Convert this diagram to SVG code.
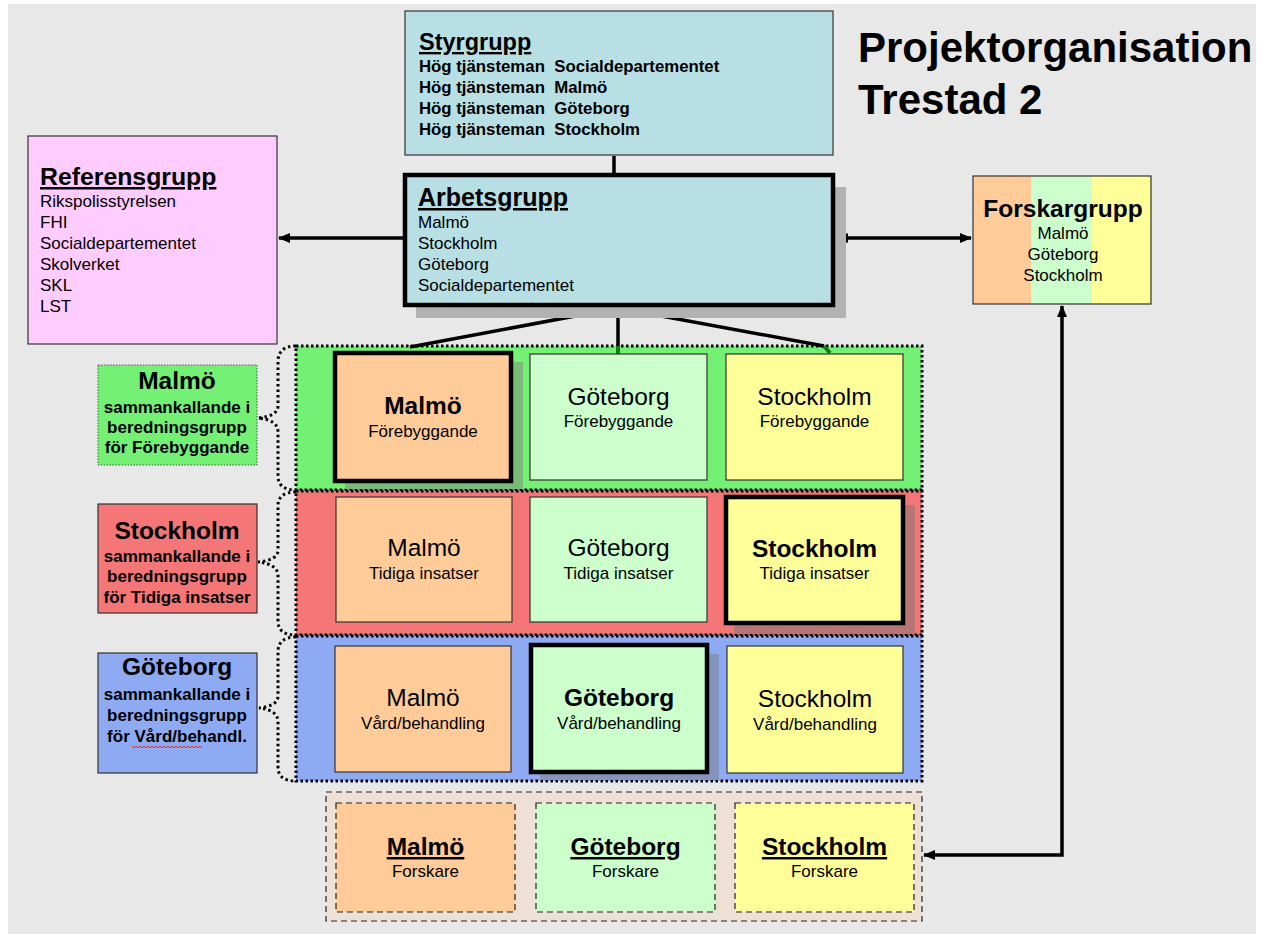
<svg xmlns="http://www.w3.org/2000/svg" width="1263" height="934" viewBox="0 0 1263 934">
<defs>
<style>
text{font-family:"Liberation Sans",Arial,sans-serif;fill:#000}
.b{font-weight:bold}
.u{text-decoration:underline}
.c{text-anchor:middle}
.thin{stroke:#333;stroke-width:1.2}
.thick{stroke:#000;stroke-width:4.5}
.band{stroke:#000;stroke-width:3;stroke-dasharray:2.5 2.5}
.dash{stroke:#222;stroke-width:1.2;stroke-dasharray:6 4}
.brace{fill:none;stroke:#000;stroke-width:3;stroke-dasharray:2.5 3}
.conn{fill:none;stroke:#000;stroke-width:3.5}
</style>
<marker id="ah" viewBox="0 0 12 10" refX="11" refY="5" markerWidth="12" markerHeight="10" markerUnits="userSpaceOnUse" orient="auto-start-reverse">
<path d="M0,0 L12,5 L0,10 Z" fill="#000"/>
</marker>
</defs>
<rect x="0" y="0" width="1263" height="934" fill="#fff"/>
<rect x="8" y="4" width="1248" height="930" fill="#e8e8e8"/>

<g id="title">
<text class="b" x="858" y="62" font-size="42">Projektorganisation</text>
<text class="b" x="858" y="114" font-size="42">Trestad 2</text>
</g>

<!-- bands -->
<g id="band-forebyggande"><rect x="296" y="346" width="626" height="144" fill="#74f074" class="band"/></g>
<g id="band-tidiga"><rect x="296" y="491" width="626" height="144" fill="#f47676" class="band"/></g>
<g id="band-vard"><rect x="296" y="636" width="626" height="145" fill="#8eaaf2" class="band"/></g>

<g id="connectors">
<line x1="614" y1="156" x2="614" y2="174" class="conn" stroke-width="4"/>
<line x1="618" y1="308" x2="410" y2="347" class="conn" stroke-width="4"/>
<line x1="618" y1="308" x2="618" y2="346" class="conn" stroke-width="4"/>
<line x1="618" y1="308" x2="824" y2="346" class="conn" stroke-width="4"/>
<line x1="618" y1="346" x2="618" y2="354" stroke="#167a16" stroke-width="4"/>
<line x1="824" y1="346" x2="830" y2="353" stroke="#167a16" stroke-width="4"/>
<line x1="403" y1="238" x2="279" y2="238" class="conn" marker-end="url(#ah)"/>
<line x1="837" y1="238" x2="971" y2="238" class="conn" marker-start="url(#ah)" marker-end="url(#ah)"/>
<polyline points="1062,306 1062,855 924,855" class="conn" marker-start="url(#ah)" marker-end="url(#ah)"/>
<path class="brace" d="M296,346 Q278,346 278,362 L278,406 Q278,416 258,418 Q278,420 278,432 L278,476 Q278,490 296,490"/>
<path class="brace" d="M296,492 Q278,492 278,506 L278,550 Q278,560 258,562 Q278,564 278,576 L278,621 Q278,635 296,635"/>
<path class="brace" d="M296,637 Q278,637 278,652 L278,696 Q278,706 259,708 Q278,710 278,722 L278,767 Q278,781 296,781"/>
</g>

<g id="styrgrupp">
<rect x="405" y="11" width="428" height="144" fill="#b8dfe3" class="thin"/>
<text class="b u" x="419" y="50" font-size="23.5">Styrgrupp </text>
<text class="b" x="419" y="72" font-size="16.8" xml:space="preserve">Hög tjänsteman  Socialdepartementet</text>
<text class="b" x="419" y="93" font-size="16.8" xml:space="preserve">Hög tjänsteman  Malmö</text>
<text class="b" x="419" y="114" font-size="16.8" xml:space="preserve">Hög tjänsteman  Göteborg</text>
<text class="b" x="419" y="135" font-size="16.8" xml:space="preserve">Hög tjänsteman  Stockholm</text>
</g>

<g id="arbetsgrupp">
<rect x="416" y="187" width="430" height="131" fill="#b2b2b2"/>
<rect x="405" y="175" width="428" height="130" fill="#b8dfe3" class="thick"/>
<text class="b u" x="418" y="206" font-size="25">Arbetsgrupp </text>
<text x="418" y="228" font-size="17">Malmö</text>
<text x="418" y="249" font-size="17">Stockholm</text>
<text x="418" y="270" font-size="17">Göteborg</text>
<text x="418" y="291" font-size="17">Socialdepartementet</text>
</g>

<g id="referensgrupp">
<rect x="28" y="136" width="249" height="208" fill="#ffccff" class="thin"/>
<text class="b u" x="40" y="185" font-size="24.8">Referensgrupp</text>
<text x="40" y="207" font-size="17">Rikspolisstyrelsen</text>
<text x="40" y="228" font-size="17">FHI</text>
<text x="40" y="249" font-size="17">Socialdepartementet</text>
<text x="40" y="270" font-size="17">Skolverket</text>
<text x="40" y="291" font-size="17">SKL</text>
<text x="40" y="312" font-size="17">LST</text>
</g>

<g id="forskargrupp">
<rect x="973" y="176" width="58" height="128" fill="#ffcc99"/>
<rect x="1031" y="176" width="61" height="128" fill="#ccffcc"/>
<rect x="1092" y="176" width="59" height="128" fill="#ffff99"/>
<rect x="973" y="176" width="178" height="128" fill="none" class="thin"/>
<text class="b c" x="1063" y="217" font-size="24.5">Forskargrupp</text>
<text class="c" x="1063" y="239" font-size="17">Malmö</text>
<text class="c" x="1063" y="260" font-size="17">Göteborg</text>
<text class="c" x="1063" y="281" font-size="17">Stockholm</text>
</g>

<g id="label-malmo">
<rect x="98" y="365" width="159" height="100" fill="#74f074" stroke="#555" stroke-width="1" stroke-dasharray="1.5 1.5"/>
<text class="b c" x="177" y="389" font-size="24.5">Malmö</text>
<text class="b c" x="177" y="413" font-size="17">sammankallande i</text>
<text class="b c" x="177" y="433" font-size="17">beredningsgrupp</text>
<text class="b c" x="177" y="453" font-size="17">för Förebyggande</text>
</g>
<g id="label-stockholm">
<rect x="98" y="504" width="159" height="109" fill="#f47676" class="thin"/>
<text class="b c" x="177" y="539" font-size="24.5">Stockholm</text>
<text class="b c" x="177" y="562" font-size="17">sammankallande i</text>
<text class="b c" x="177" y="582" font-size="17">beredningsgrupp</text>
<text class="b c" x="177" y="603" font-size="17">för Tidiga insatser</text>
</g>
<g id="label-goteborg">
<rect x="98" y="653" width="159" height="120" fill="#8eaaf2" class="thin"/>
<text class="b c" x="177" y="675" font-size="24.5">Göteborg</text>
<text class="b c" x="177" y="700" font-size="17">sammankallande i</text>
<text class="b c" x="177" y="721" font-size="17">beredningsgrupp</text>
<text class="b c" x="177" y="742" font-size="17">för Vård/behandl.</text>
<path d="M132,746 l2,2 l2,-2 l2,2 l2,-2 l2,2 l2,-2 l2,2 l2,-2 l2,2 l2,-2 l2,2 l2,-2 l2,2 l2,-2 l2,2 l2,-2 l2,2 l2,-2 l2,2 l2,-2 l2,2 l2,-2 l2,2 l2,-2 l2,2 l2,-2 l2,2 l2,-2 l2,2 l2,-2 l2,2 l2,-2 l2,2 l2,-2 l2,2" fill="none" stroke="#e03030" stroke-width="1"/>
</g>

<!-- Förebyggande row -->
<g id="cell-malmo-forebyggande">
<rect x="345" y="362" width="178" height="127" fill="#79ba79"/>
<rect x="335" y="353" width="176" height="128" fill="#ffcc99" class="thick"/>
<text class="b c" x="423" y="414" font-size="24.5">Malmö</text>
<text class="c" x="423" y="437" font-size="17">Förebyggande</text>
</g>
<g id="cell-goteborg-forebyggande">
<rect x="530" y="354" width="177" height="126" fill="#ccffcc" class="thin"/>
<text class="c" x="618.5" y="405" font-size="24.5">Göteborg</text>
<text class="c" x="618.5" y="427" font-size="17">Förebyggande</text>
</g>
<g id="cell-stockholm-forebyggande">
<rect x="726" y="354" width="177" height="126" fill="#ffff99" class="thin"/>
<text class="c" x="814.5" y="405" font-size="24.5">Stockholm</text>
<text class="c" x="814.5" y="427" font-size="17">Förebyggande</text>
</g>

<!-- Tidiga row -->
<g id="cell-malmo-tidiga">
<rect x="336" y="497" width="176" height="125" fill="#ffcc99" class="thin"/>
<text class="c" x="424" y="556" font-size="24.5">Malmö</text>
<text class="c" x="424" y="579" font-size="17">Tidiga insatser</text>
</g>
<g id="cell-goteborg-tidiga">
<rect x="530" y="497" width="177" height="125" fill="#ccffcc" class="thin"/>
<text class="c" x="618.5" y="556" font-size="24.5">Göteborg</text>
<text class="c" x="618.5" y="579" font-size="17">Tidiga insatser</text>
</g>
<g id="cell-stockholm-tidiga">
<rect x="734" y="505" width="181" height="129" fill="#b87575"/>
<rect x="726" y="497" width="177" height="126" fill="#ffff99" class="thick"/>
<text class="b c" x="814.5" y="557" font-size="24.5">Stockholm</text>
<text class="c" x="814.5" y="579" font-size="17">Tidiga insatser</text>
</g>

<!-- Vård row -->
<g id="cell-malmo-vard">
<rect x="335" y="646" width="176" height="126" fill="#ffcc99" class="thin"/>
<text class="c" x="423" y="706" font-size="24.5">Malmö</text>
<text class="c" x="423" y="729" font-size="17">Vård/behandling</text>
</g>
<g id="cell-goteborg-vard">
<rect x="540" y="654" width="179" height="126" fill="#8494bc"/>
<rect x="531" y="645" width="176" height="127" fill="#ccffcc" class="thick"/>
<text class="b c" x="619" y="706" font-size="24.5">Göteborg</text>
<text class="c" x="619" y="729" font-size="17">Vård/behandling</text>
</g>
<g id="cell-stockholm-vard">
<rect x="727" y="646" width="176" height="127" fill="#ffff99" class="thin"/>
<text class="c" x="815" y="707" font-size="24.5">Stockholm</text>
<text class="c" x="815" y="730" font-size="17">Vård/behandling</text>
</g>

<!-- Forskare -->
<g id="forskare-container">
<rect x="326" y="792" width="596" height="129" fill="#eee0d5" class="dash"/>
</g>
<g id="forskare-malmo">
<rect x="336" y="803" width="179" height="109" fill="#ffcc99" class="dash" stroke-dasharray="4 3"/>
<text class="b u c" x="425.5" y="855" font-size="24.5">Malmö</text>
<text class="c" x="425.5" y="877" font-size="17">Forskare</text>
</g>
<g id="forskare-goteborg">
<rect x="536" y="803" width="179" height="109" fill="#ccffcc" class="dash" stroke-dasharray="4 3"/>
<text class="b u c" x="625.5" y="855" font-size="24.5">Göteborg</text>
<text class="c" x="625.5" y="877" font-size="17">Forskare</text>
</g>
<g id="forskare-stockholm">
<rect x="735" y="803" width="179" height="109" fill="#ffff99" class="dash" stroke-dasharray="4 3"/>
<text class="b u c" x="824.5" y="855" font-size="24.5">Stockholm</text>
<text class="c" x="824.5" y="877" font-size="17">Forskare</text>
</g>
</svg>
